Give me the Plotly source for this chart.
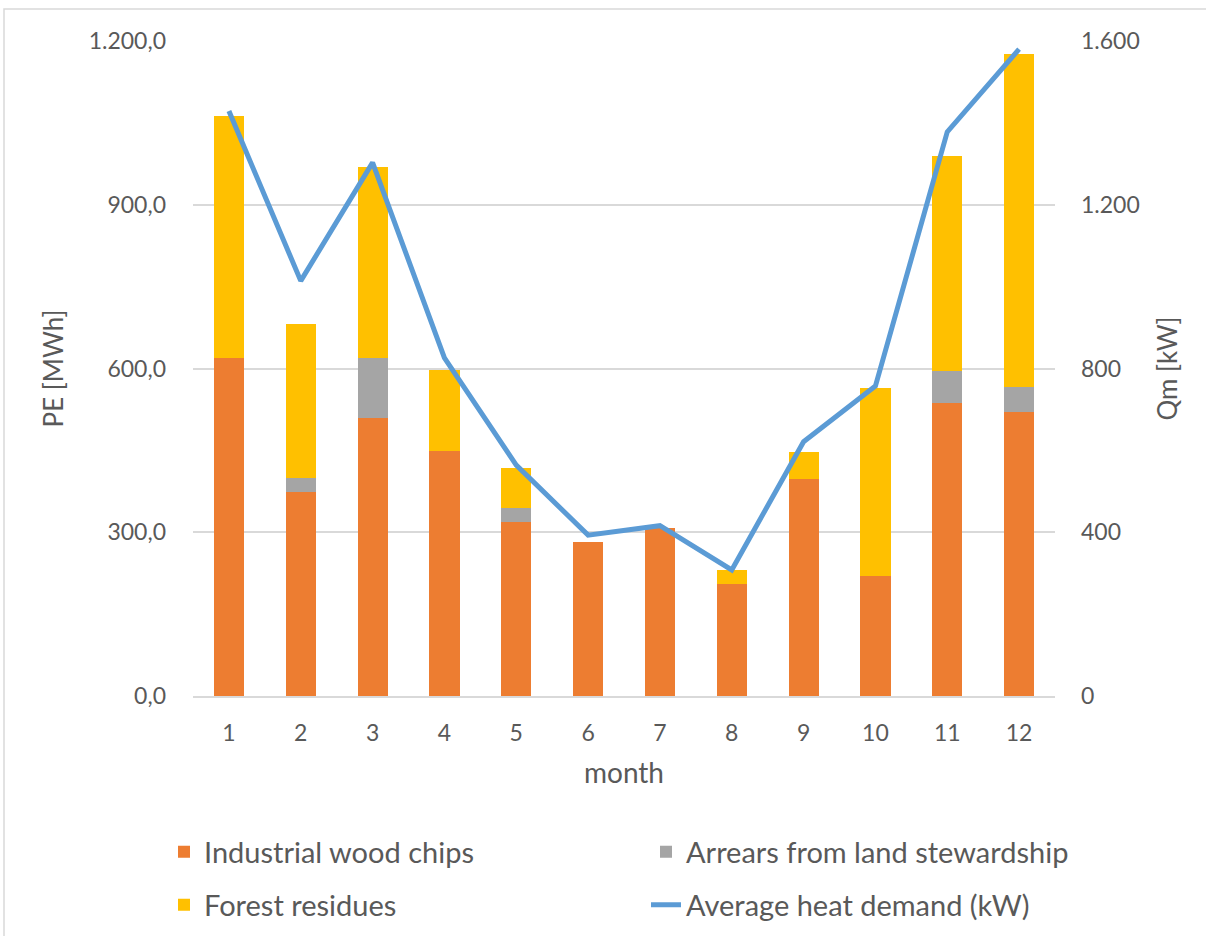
import plotly.graph_objects as go

# Monthly primary energy by fuel source (MWh) and average heat demand (kW)
months = ["1", "2", "3", "4", "5", "6", "7", "8", "9", "10", "11", "12"]
industrial_wood_chips = [619, 374, 509, 448, 319, 283, 308, 205, 398, 220, 537, 520]
arrears_land_stewardship = [0, 26, 110, 0, 26, 0, 0, 0, 0, 0, 58, 47]
forest_residues = [444, 281, 351, 150, 73, 0, 0, 26, 49, 344, 395, 609]
avg_heat_demand_kw = [1429, 1014, 1303, 826, 564, 393, 416, 308, 621, 757, 1378, 1580]

left_ticks = [0, 300, 600, 900, 1200]
right_ticks = [0, 400, 800, 1200, 1600]

FONT = "Lato"
TEXT = "#595959"
W, H = 1206, 936

fig = go.Figure()
fig.add_trace(go.Bar(x=months, y=industrial_wood_chips, name="Industrial wood chips",
                     marker=dict(color="#ED7D31", line=dict(width=0)), legend="legend"))
fig.add_trace(go.Bar(x=months, y=arrears_land_stewardship, name="Arrears from land stewardship",
                     marker=dict(color="#A5A5A5", line=dict(width=0)), legend="legend2"))
fig.add_trace(go.Bar(x=months, y=forest_residues, name="Forest residues",
                     marker=dict(color="#FFC000", line=dict(width=0)), legend="legend3"))
fig.add_trace(go.Scatter(x=months, y=avg_heat_demand_kw, name="Average heat demand (kW)",
                         mode="lines", line=dict(color="#5B9BD5", width=5),
                         yaxis="y2", legend="legend4"))

# light frame around the chart area
fig.add_shape(type="rect", xref="paper", yref="paper",
              x0=(4 - 193) / 862, x1=(1230 - 193) / 862,
              y0=(696 - 960) / 655, y1=(696 - 9) / 655,
              line=dict(color="#D9D9D9", width=1.5), fillcolor="rgba(0,0,0,0)", layer="below")

legend_common = dict(orientation="h", xref="container", yref="container", xanchor="left",
                     yanchor="middle", traceorder="normal",
                     font=dict(family=FONT, size=29, color=TEXT),
                     bgcolor="rgba(0,0,0,0)", itemclick=False, itemdoubleclick=False)

col1_x, col2_x = 164 / W, 646 / W
row1_y, row2_y = 1 - 852 / H, 1 - 905 / H

fig.update_layout(
    width=W, height=H,
    margin=dict(l=193, r=151, t=41, b=240, autoexpand=False),
    paper_bgcolor="white", plot_bgcolor="white",
    barmode="stack", bargap=0.58,
    separators=",.",
    font=dict(family=FONT, color=TEXT, size=23),
    showlegend=True,
    legend=dict(legend_common, x=col1_x, y=row1_y),
    legend2=dict(legend_common, x=col2_x, y=row1_y),
    legend3=dict(legend_common, x=col1_x, y=row2_y),
    legend4=dict(legend_common, x=col2_x, y=row2_y),
    xaxis=dict(
        type="category", showgrid=False, showline=True, linecolor="#D9D9D9", linewidth=1.5,
        ticks="", tickfont=dict(family=FONT, size=23, color=TEXT), ticklabelstandoff=16,
        title=dict(text="month", font=dict(family=FONT, size=28, color=TEXT), standoff=18),
    ),
    yaxis=dict(
        range=[0, 1200], tickvals=left_ticks, tickformat=",.1f",
        showgrid=True, gridcolor="#D9D9D9", gridwidth=1.5, zeroline=False,
        ticks="", tickfont=dict(family=FONT, size=23, color=TEXT), ticklabelstandoff=26,
        title=dict(text="PE [MWh]", font=dict(family=FONT, size=26, color=TEXT), standoff=17),
    ),
    yaxis2=dict(
        range=[0, 1600], tickvals=right_ticks, tickformat=",d",
        overlaying="y", side="right", showgrid=False, zeroline=False,
        ticks="", tickfont=dict(family=FONT, size=23, color=TEXT), ticklabelstandoff=25,
        title=dict(text="Qm [kW]", font=dict(family=FONT, size=26, color=TEXT), standoff=20),
    ),
)

fig.write_html("out.html")
